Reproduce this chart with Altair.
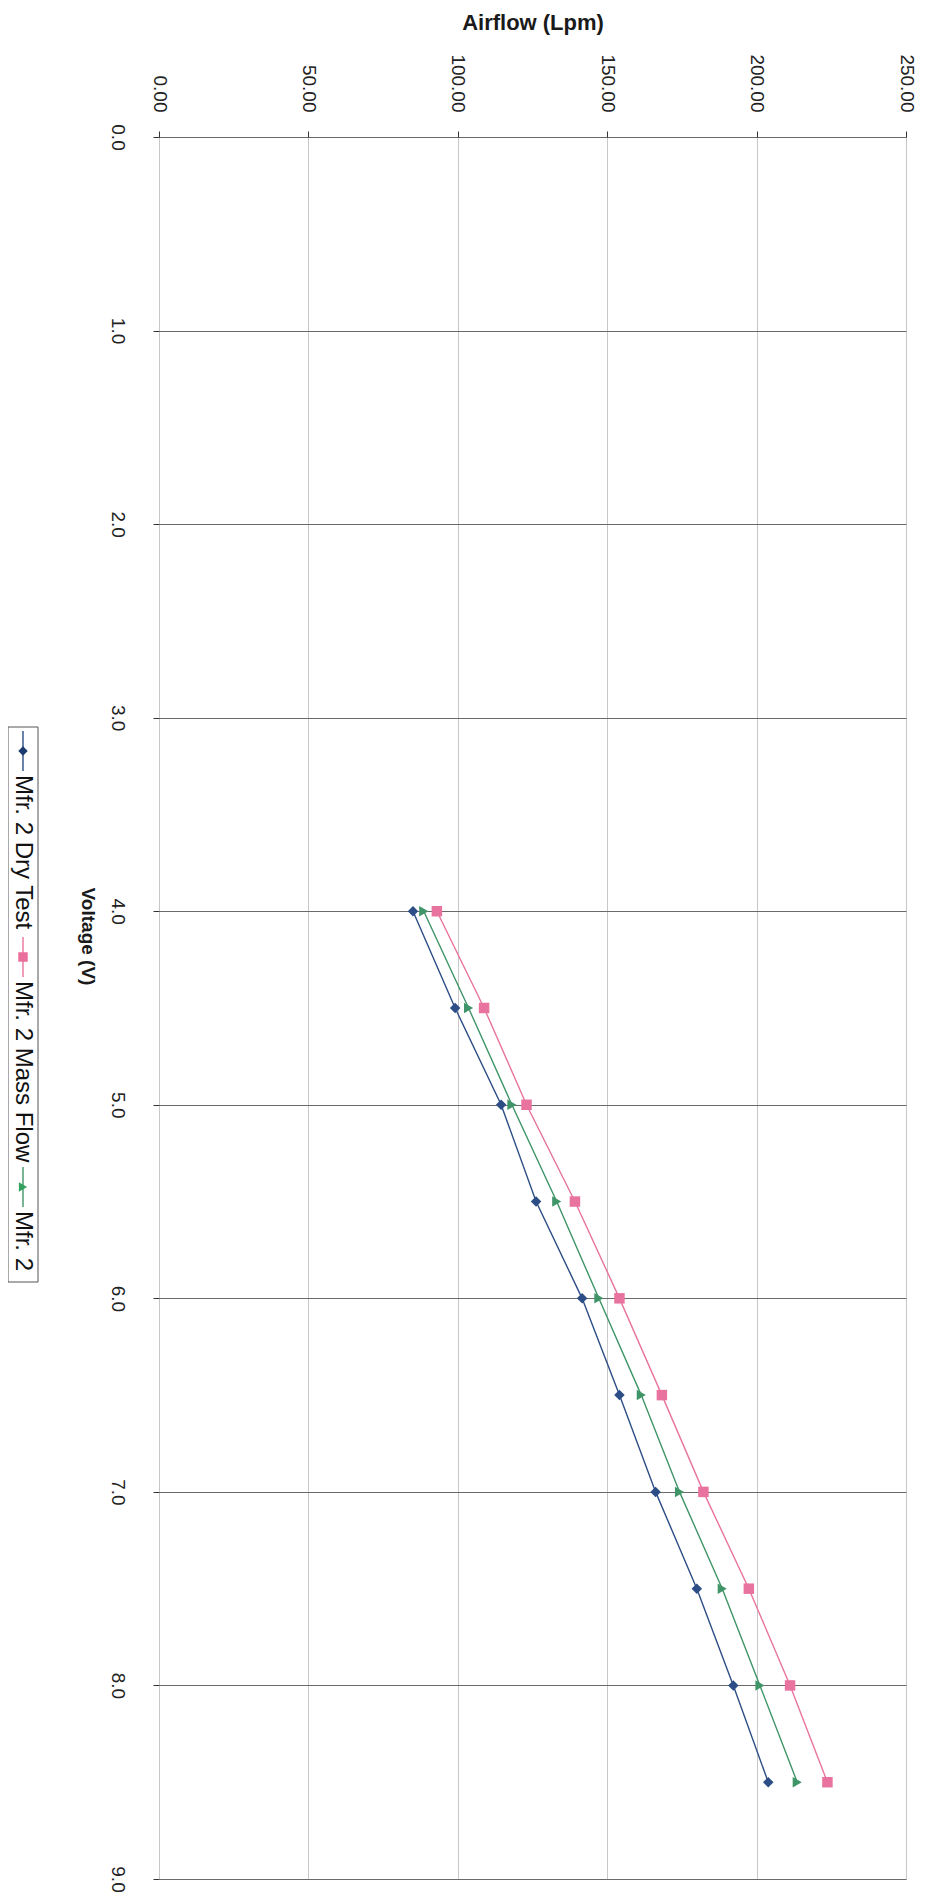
import altair as alt
import pandas as pd

# ---- data ----
voltage = [4.0, 4.5, 5.0, 5.5, 6.0, 6.5, 7.0, 7.5, 8.0, 8.5]
dry_test = [85.0, 99.1, 114.5, 126.2, 141.6, 154.1, 166.2, 180.0, 192.2, 203.9]
mass_flow = [93.0, 108.8, 123.0, 139.2, 154.1, 168.3, 182.2, 197.4, 211.2, 223.7]
mfr2 = [88.6, 103.6, 118.1, 133.1, 147.2, 161.4, 174.2, 188.5, 201.1, 213.6]
series_names = ["Mfr. 2 Dry Test", "Mfr. 2 Mass Flow", "Mfr. 2"]
airflow_ticks = [0, 50, 100, 150, 200, 250]
voltage_ticks = [0, 1, 2, 3, 4, 5, 6, 7, 8, 9]

# ---- styles ----
line_colors = ["#2c4d85", "#e8739e", "#3f9468"]
marker_colors = ["#1b3a6e", "#ea6f9c", "#33a25f"]
marker_shapes = ["diamond", "square", "triangle-right"]
FONT = "Liberation Sans, Arial, sans-serif"
W, H = 747, 1742
PAD_L, PAD_T = 151, 129

rows = []
for name, vals in zip(series_names, [dry_test, mass_flow, mfr2]):
    for v, a in zip(voltage, vals):
        rows.append({"Series": name, "Voltage": v, "Airflow": a})
df = pd.DataFrame(rows)

x_enc = alt.X(
    "Airflow:Q",
    scale=alt.Scale(domain=[0, 250], nice=False, zero=True),
    axis=alt.Axis(
        orient="top", values=airflow_ticks, format=".2f",
        labelAngle=90, labelAlign="right", labelBaseline="middle",
        labelFlush=False, labelOverlap=False,
        labelFont=FONT, labelFontSize=19, labelColor="#222",
        labelPadding=19, tickSize=6, tickColor="#333",
        grid=True, gridColor="#c8c8c8", gridWidth=1,
        domain=False,
        title="Airflow (Lpm)", titleFont=FONT, titleFontSize=22,
        titleFontWeight="bold", titleColor="#1a1a1a", titleAngle=0,
        titleBaseline="middle", titleY=-115,
    ),
)
y_enc = alt.Y(
    "Voltage:Q",
    scale=alt.Scale(domain=[0, 9], nice=False, reverse=True),
    axis=alt.Axis(
        orient="left", values=voltage_ticks, format=".1f",
        labelAngle=90, labelAlign="center", labelBaseline="top",
        labelFlush=False, labelOverlap=False,
        labelFont=FONT, labelFontSize=19, labelColor="#222",
        labelPadding=27, tickSize=6, tickColor="#333",
        grid=True, gridColor="#6a6a6a", gridWidth=1,
        domain=False,
        title="Voltage (V)", titleFont=FONT, titleFontSize=19,
        titleFontWeight="bold", titleColor="#1a1a1a",
        titleAngle=90, titleAlign="center", titleBaseline="middle",
        titleX=-72, titleY=799,
    ),
)

color = alt.Color("Series:N", scale=alt.Scale(domain=series_names, range=line_colors), legend=None)

lines = alt.Chart(df).mark_line(strokeWidth=1.4).encode(
    x=x_enc, y=y_enc, color=color, order="Voltage:Q", detail="Series:N"
)
points = alt.Chart(df).mark_point(filled=True, opacity=1, size=110).encode(
    x="Airflow:Q", y="Voltage:Q",
    color=alt.Color("Series:N", scale=alt.Scale(domain=series_names, range=marker_colors), legend=None),
    shape=alt.Shape("Series:N", scale=alt.Scale(domain=series_names, range=marker_shapes), legend=None),
)

# ---- manual (rotated) legend, outside the plot on the left ----
LEG_X = -136
LEG_FS = 24
SEG = 40
text_widths = [158, 182, 61]
layers = []
y = 590
box_top = y
y += 4
for name, lc, mc, sh, tw in zip(series_names, line_colors, marker_colors, marker_shapes, text_widths):
    one = pd.DataFrame({"Series": [name]})
    layers.append(alt.Chart(one).mark_rule(color=lc, strokeWidth=1.4).encode(
        x=alt.value(LEG_X), y=alt.value(y), y2=alt.value(y + SEG)))
    layers.append(alt.Chart(one).mark_point(filled=True, opacity=1, size=90, shape=sh, color=mc).encode(
        x=alt.value(LEG_X), y=alt.value(y + SEG / 2)))
    y += SEG + 4
    layers.append(alt.Chart(one).mark_text(angle=90, align="left", baseline="middle",
                                           font=FONT, fontSize=LEG_FS, color="#111").encode(
        x=alt.value(LEG_X), y=alt.value(y), text="Series:N"))
    y += tw + 4
box_bot = y + 6
box = alt.Chart(pd.DataFrame({"a": [0]})).mark_rect(fill=None, stroke="#555", strokeWidth=1).encode(
    x=alt.value(-151), x2=alt.value(-121), y=alt.value(box_top), y2=alt.value(box_bot))

chart = alt.layer(lines, points, box, *layers).properties(
    width=W, height=H,
    autosize=alt.AutoSizeParams(type="none"),
    padding={"left": PAD_L, "top": PAD_T, "right": 13, "bottom": 20},
).configure_view(stroke="#444", strokeWidth=1).configure(background="white")

chart.save("out.html", embed_options={"renderer": "svg", "actions": False})
